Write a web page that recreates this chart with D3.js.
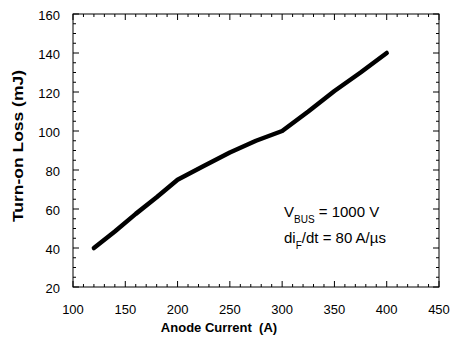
<!DOCTYPE html>
<html><head><meta charset="utf-8">
<script src="https://cdn.jsdelivr.net/npm/d3@7"></script>
<style>body{margin:0;background:#fff}svg{display:block}</style>
</head><body>
<script>
const current = [120, 140, 160, 180, 200, 225, 250, 275, 300, 325, 350, 375, 400];
const loss    = [40, 48.5, 57.5, 66, 75, 82, 89, 95, 100, 110, 120.5, 130, 140];
const xTicks = [100, 150, 200, 250, 300, 350, 400, 450];
const yTicks = [20, 40, 60, 80, 100, 120, 140, 160];

const W = 451, H = 339;
const L = 73, R = 439, T = 14, B = 287;
const svg = d3.select("body").append("svg").attr("width", W).attr("height", H);
const x = d3.scaleLinear().domain([100, 450]).range([L, R]);
const y = d3.scaleLinear().domain([20, 160]).range([B, T]);

const font = "Liberation Sans, Arial, sans-serif";
const g = svg.append("g");
g.append("rect").attr("x", L).attr("y", T).attr("width", R - L).attr("height", B - T)
  .attr("fill", "none").attr("stroke", "#000").attr("stroke-width", 1);

const xMinor = d3.range(100, 451, 10), yMinor = d3.range(20, 161, 5);
xMinor.forEach(v => {
  const major = v % 50 === 0, len = major ? 6 : 3;
  g.append("line").attr("x1", x(v)).attr("x2", x(v)).attr("y1", B).attr("y2", B - len).attr("stroke", "#000");
  g.append("line").attr("x1", x(v)).attr("x2", x(v)).attr("y1", T).attr("y2", T + len).attr("stroke", "#000");
});
yMinor.forEach(v => {
  const major = v % 20 === 0, len = major ? 6 : 3;
  g.append("line").attr("y1", y(v)).attr("y2", y(v)).attr("x1", L).attr("x2", L + len).attr("stroke", "#000");
  g.append("line").attr("y1", y(v)).attr("y2", y(v)).attr("x1", R).attr("x2", R - len).attr("stroke", "#000");
});

g.selectAll(".xl").data(xTicks).join("text").attr("x", d => x(d)).attr("y", B + 27)
  .attr("text-anchor", "middle").attr("font-family", font).attr("font-size", 13).text(d => d);
g.selectAll(".yl").data(yTicks).join("text").attr("x", L - 13).attr("y", d => y(d) + 5.5)
  .attr("text-anchor", "end").attr("font-family", font).attr("font-size", 13).text(d => d);

svg.append("text").attr("x", 219).attr("y", 332).attr("text-anchor", "middle")
  .attr("font-family", font).attr("font-size", 13).attr("font-weight", "bold")
  .attr("xml:space", "preserve").text("Anode Current  (A)");
svg.append("text").attr("transform", `translate(23,146) rotate(-90)`).attr("text-anchor", "middle")
  .attr("font-family", font).attr("font-size", 14.5).attr("font-weight", "bold")
  .attr("textLength", 152).attr("lengthAdjust", "spacingAndGlyphs")
  .text("Turn-on Loss (mJ)");

svg.append("path").datum(current.map((c, i) => [c, loss[i]]))
  .attr("d", d3.line().x(d => x(d[0])).y(d => y(d[1])))
  .attr("fill", "none").attr("stroke", "#000").attr("stroke-width", 4.5)
  .attr("stroke-linejoin", "round").attr("stroke-linecap", "round");

const t1 = svg.append("text").attr("x", 284).attr("y", 217).attr("font-family", font).attr("font-size", 15);
t1.append("tspan").text("V");
t1.append("tspan").attr("font-size", 10).attr("dy", 6).text("BUS");
t1.append("tspan").attr("dy", -6).text(" = 1000 V");
const t2 = svg.append("text").attr("x", 284).attr("y", 243).attr("font-family", font).attr("font-size", 15);
t2.append("tspan").text("di");
t2.append("tspan").attr("font-size", 10).attr("dy", 6).text("F");
t2.append("tspan").attr("dy", -6).text("/dt = 80 A/µs");
</script>
</body></html>
